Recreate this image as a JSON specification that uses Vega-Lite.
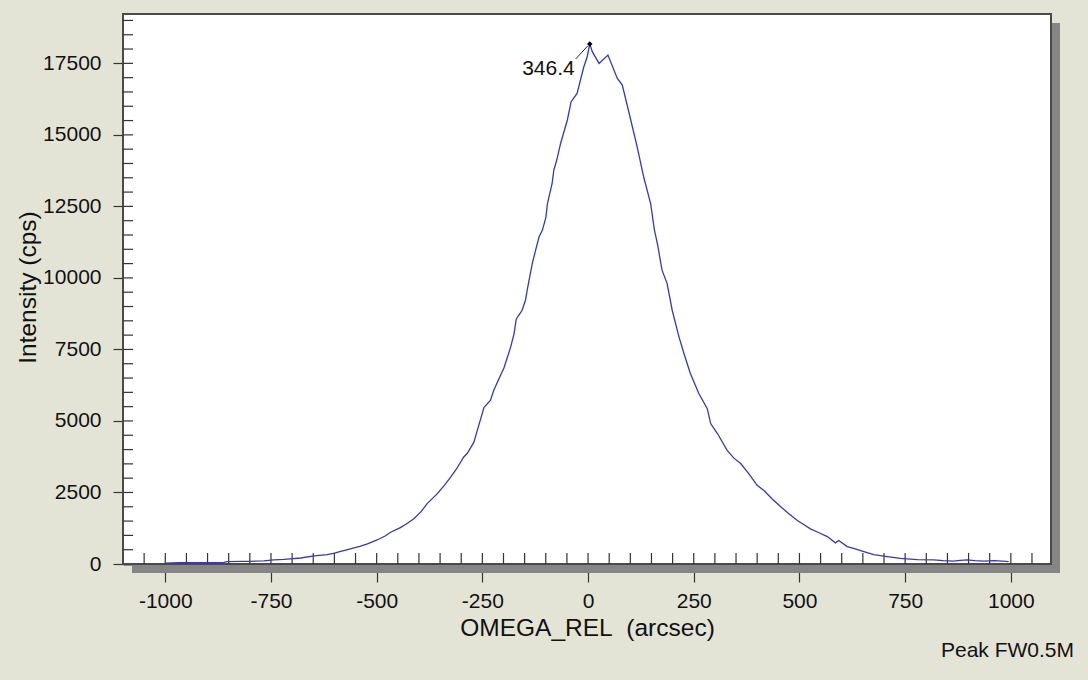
{
  "$schema": "https://vega.github.io/schema/vega-lite/v6.json",
  "width": 928,
  "height": 550,
  "autosize": {"type": "none"},
  "padding": {"left": 123, "top": 14, "right": 37, "bottom": 116},
  "background": "#e4e4d6",
  "config": {
    "view": {"stroke": null, "fill": null},
    "font": "Liberation Sans",
    "axis": {
      "grid": false, "zindex": 2,
      "domainColor": "#333333", "domainWidth": 2,
      "tickColor": "#333333", "tickWidth": 1.2,
      "labelFontSize": 21, "labelColor": "#111111",
      "labelOverlap": false, "labelFlush": false, "labelBound": false,
      "titleFontSize": 24.5, "titleFontWeight": "normal", "titleColor": "#111111", "titleBaseline": "middle"
    }
  },
  "title": {"text": "Peak FW0.5M", "orient": "bottom", "anchor": "end", "frame": "group", "fontSize": 21, "fontWeight": "normal", "color": "#111111", "font": "Liberation Sans", "dx": 23, "offset": 0},
  "resolve": {"axis": {"x": "independent", "y": "independent"}},
  "datasets": {
    "scan": [
      {"omega": -1000, "cps": 30}, {"omega": -985, "cps": 40}, {"omega": -968, "cps": 45}, {"omega": -930, "cps": 48},
      {"omega": -900, "cps": 50}, {"omega": -861, "cps": 55}, {"omega": -853, "cps": 85}, {"omega": -820, "cps": 90},
      {"omega": -800, "cps": 95}, {"omega": -767, "cps": 110}, {"omega": -743, "cps": 145}, {"omega": -720, "cps": 160},
      {"omega": -704, "cps": 180}, {"omega": -680, "cps": 210}, {"omega": -648, "cps": 285}, {"omega": -617, "cps": 330},
      {"omega": -600, "cps": 380}, {"omega": -585, "cps": 445}, {"omega": -562, "cps": 530}, {"omega": -554, "cps": 560},
      {"omega": -540, "cps": 620}, {"omega": -522, "cps": 705}, {"omega": -499, "cps": 840}, {"omega": -480, "cps": 980},
      {"omega": -467, "cps": 1110}, {"omega": -444, "cps": 1270}, {"omega": -430, "cps": 1400}, {"omega": -412, "cps": 1580},
      {"omega": -395, "cps": 1830}, {"omega": -380, "cps": 2120}, {"omega": -357, "cps": 2450}, {"omega": -340, "cps": 2750},
      {"omega": -325, "cps": 3040}, {"omega": -311, "cps": 3330}, {"omega": -294, "cps": 3740}, {"omega": -286, "cps": 3860},
      {"omega": -270, "cps": 4260}, {"omega": -262, "cps": 4670}, {"omega": -246, "cps": 5480}, {"omega": -231, "cps": 5720},
      {"omega": -223, "cps": 6070}, {"omega": -210, "cps": 6500}, {"omega": -199, "cps": 6850}, {"omega": -183, "cps": 7590},
      {"omega": -175, "cps": 8050}, {"omega": -170, "cps": 8550}, {"omega": -166, "cps": 8650}, {"omega": -156, "cps": 8870},
      {"omega": -148, "cps": 9220}, {"omega": -144, "cps": 9570}, {"omega": -132, "cps": 10500}, {"omega": -124, "cps": 10970},
      {"omega": -116, "cps": 11430}, {"omega": -108, "cps": 11670}, {"omega": -100, "cps": 12100}, {"omega": -96, "cps": 12600},
      {"omega": -85, "cps": 13300}, {"omega": -81, "cps": 13770}, {"omega": -74, "cps": 14120}, {"omega": -65, "cps": 14700},
      {"omega": -49, "cps": 15520}, {"omega": -40, "cps": 16160}, {"omega": -26, "cps": 16450}, {"omega": -10, "cps": 17380},
      {"omega": -2, "cps": 17730}, {"omega": 4, "cps": 18180}, {"omega": 10, "cps": 17910}, {"omega": 26, "cps": 17500},
      {"omega": 47, "cps": 17790}, {"omega": 69, "cps": 16980}, {"omega": 81, "cps": 16740}, {"omega": 101, "cps": 15520},
      {"omega": 116, "cps": 14590}, {"omega": 132, "cps": 13500}, {"omega": 148, "cps": 12600}, {"omega": 157, "cps": 11670},
      {"omega": 164, "cps": 11200}, {"omega": 175, "cps": 10270}, {"omega": 187, "cps": 9800}, {"omega": 199, "cps": 8870},
      {"omega": 215, "cps": 7940}, {"omega": 227, "cps": 7350}, {"omega": 242, "cps": 6660}, {"omega": 262, "cps": 5960},
      {"omega": 282, "cps": 5430}, {"omega": 290, "cps": 4910}, {"omega": 306, "cps": 4560}, {"omega": 329, "cps": 3970},
      {"omega": 345, "cps": 3700}, {"omega": 361, "cps": 3510}, {"omega": 380, "cps": 3160}, {"omega": 400, "cps": 2750},
      {"omega": 416, "cps": 2570}, {"omega": 435, "cps": 2280}, {"omega": 455, "cps": 2010}, {"omega": 475, "cps": 1760},
      {"omega": 495, "cps": 1520}, {"omega": 510, "cps": 1380}, {"omega": 526, "cps": 1230}, {"omega": 545, "cps": 1100},
      {"omega": 566, "cps": 960}, {"omega": 585, "cps": 740}, {"omega": 593, "cps": 820}, {"omega": 613, "cps": 610},
      {"omega": 630, "cps": 540}, {"omega": 645, "cps": 470}, {"omega": 660, "cps": 400}, {"omega": 676, "cps": 330},
      {"omega": 708, "cps": 260}, {"omega": 739, "cps": 200}, {"omega": 779, "cps": 150}, {"omega": 818, "cps": 145},
      {"omega": 840, "cps": 120}, {"omega": 865, "cps": 100}, {"omega": 880, "cps": 130}, {"omega": 897, "cps": 145},
      {"omega": 915, "cps": 115}, {"omega": 936, "cps": 100}, {"omega": 960, "cps": 120}, {"omega": 980, "cps": 100},
      {"omega": 995, "cps": 85}
    ],
    "peak": [{"omega": 4, "cps": 18180, "label": "346.4"}],
    "frame": [{}],
    "xminor": [
      {"omega": -1050}, {"omega": -1000}, {"omega": -950}, {"omega": -900}, {"omega": -850}, {"omega": -800}, {"omega": -750},
      {"omega": -700}, {"omega": -650}, {"omega": -600}, {"omega": -550}, {"omega": -500}, {"omega": -450}, {"omega": -400},
      {"omega": -350}, {"omega": -300}, {"omega": -250}, {"omega": -200}, {"omega": -150}, {"omega": -100}, {"omega": -50},
      {"omega": 0}, {"omega": 50}, {"omega": 100}, {"omega": 150}, {"omega": 200}, {"omega": 250}, {"omega": 300},
      {"omega": 350}, {"omega": 400}, {"omega": 450}, {"omega": 500}, {"omega": 550}, {"omega": 600}, {"omega": 650},
      {"omega": 700}, {"omega": 750}, {"omega": 800}, {"omega": 850}, {"omega": 900}, {"omega": 950}, {"omega": 1000},
      {"omega": 1050}
    ],
    "yminor": [
      {"cps": 500}, {"cps": 1000}, {"cps": 1500}, {"cps": 2000}, {"cps": 2500}, {"cps": 3000}, {"cps": 3500}, {"cps": 4000},
      {"cps": 4500}, {"cps": 5000}, {"cps": 5500}, {"cps": 6000}, {"cps": 6500}, {"cps": 7000}, {"cps": 7500}, {"cps": 8000},
      {"cps": 8500}, {"cps": 9000}, {"cps": 9500}, {"cps": 10000}, {"cps": 10500}, {"cps": 11000}, {"cps": 11500}, {"cps": 12000},
      {"cps": 12500}, {"cps": 13000}, {"cps": 13500}, {"cps": 14000}, {"cps": 14500}, {"cps": 15000}, {"cps": 15500}, {"cps": 16000},
      {"cps": 16500}, {"cps": 17000}, {"cps": 17500}, {"cps": 18000}, {"cps": 18500}, {"cps": 19000}
    ]
  },
  "layer": [
    {
      "data": {"name": "frame"},
      "mark": {"type": "rect", "fill": "#858585", "xOffset": 9, "x2Offset": 9, "yOffset": 9, "y2Offset": 9},
      "encoding": {
        "x": {
          "datum": -1100, "type": "quantitative",
          "scale": {"domain": [-1100, 1095], "nice": false, "zero": false},
          "axis": {
            "orient": "bottom",
            "values": [-1000, -750, -500, -250, 0, 250, 500, 750, 1000],
            "tickCount": 1000,
            "tickSize": 18, "labelPadding": 8,
            "labelExpr": "'' + datum.value",
            "title": "OMEGA_REL\u00a0\u00a0(arcsec)",
            "titleY": 64.5
          }
        },
        "x2": {"datum": 1095},
        "y": {
          "datum": 0, "type": "quantitative",
          "scale": {"domain": [0, 19225], "nice": false},
          "axis": {
            "orient": "left",
            "values": [0, 2500, 5000, 7500, 10000, 12500, 15000, 17500],
            "tickCount": 1000,
            "tickSize": 10, "labelPadding": 12,
            "labelExpr": "'' + datum.value",
            "title": "Intensity (cps)",
            "titleX": -95, "titleY": 273, "titleAngle": -90
          }
        },
        "y2": {"datum": 19225}
      }
    },
    {
      "data": {"name": "frame"},
      "mark": {"type": "rect", "fill": "white", "stroke": "#4a4a4a", "strokeWidth": 2},
      "encoding": {
        "x": {"datum": -1100, "type": "quantitative", "axis": null},
        "x2": {"datum": 1095},
        "y": {"datum": 0, "type": "quantitative", "axis": null},
        "y2": {"datum": 19225}
      }
    },
    {
      "data": {"name": "xminor"},
      "mark": {"type": "rule", "color": "#333333", "strokeWidth": 1.2, "y2Offset": -11},
      "encoding": {
        "x": {"field": "omega", "type": "quantitative", "axis": null},
        "y": {"datum": 0, "type": "quantitative", "axis": null},
        "y2": {"datum": 0}
      }
    },
    {
      "data": {"name": "yminor"},
      "mark": {"type": "rule", "color": "#333333", "strokeWidth": 1.2, "x2Offset": 10},
      "encoding": {
        "x": {"datum": -1100, "type": "quantitative", "axis": null},
        "x2": {"datum": -1100},
        "y": {"field": "cps", "type": "quantitative", "axis": null}
      }
    },
    {
      "data": {"name": "scan"},
      "mark": {"type": "line", "color": "#3535c8", "strokeWidth": 1.3},
      "encoding": {
        "x": {"field": "omega", "type": "quantitative", "axis": null},
        "y": {"field": "cps", "type": "quantitative", "axis": null}
      }
    },
    {
      "data": {"name": "peak"},
      "mark": {"type": "rule", "color": "#222222", "strokeWidth": 1, "xOffset": -2, "yOffset": 2, "x2Offset": -14, "y2Offset": 15},
      "encoding": {
        "x": {"field": "omega", "type": "quantitative", "axis": null},
        "x2": {"field": "omega"},
        "y": {"field": "cps", "type": "quantitative", "axis": null},
        "y2": {"field": "cps"}
      }
    },
    {
      "data": {"name": "peak"},
      "mark": {"type": "point", "shape": "diamond", "filled": true, "color": "#000000", "size": 30, "opacity": 1},
      "encoding": {
        "x": {"field": "omega", "type": "quantitative", "axis": null},
        "y": {"field": "cps", "type": "quantitative", "axis": null}
      }
    },
    {
      "data": {"name": "peak"},
      "mark": {"type": "text", "align": "right", "baseline": "middle", "dx": -15, "dy": 25, "fontSize": 21, "color": "#111111"},
      "encoding": {
        "x": {"field": "omega", "type": "quantitative", "axis": null},
        "y": {"field": "cps", "type": "quantitative", "axis": null},
        "text": {"field": "label"}
      }
    }
  ]
}
